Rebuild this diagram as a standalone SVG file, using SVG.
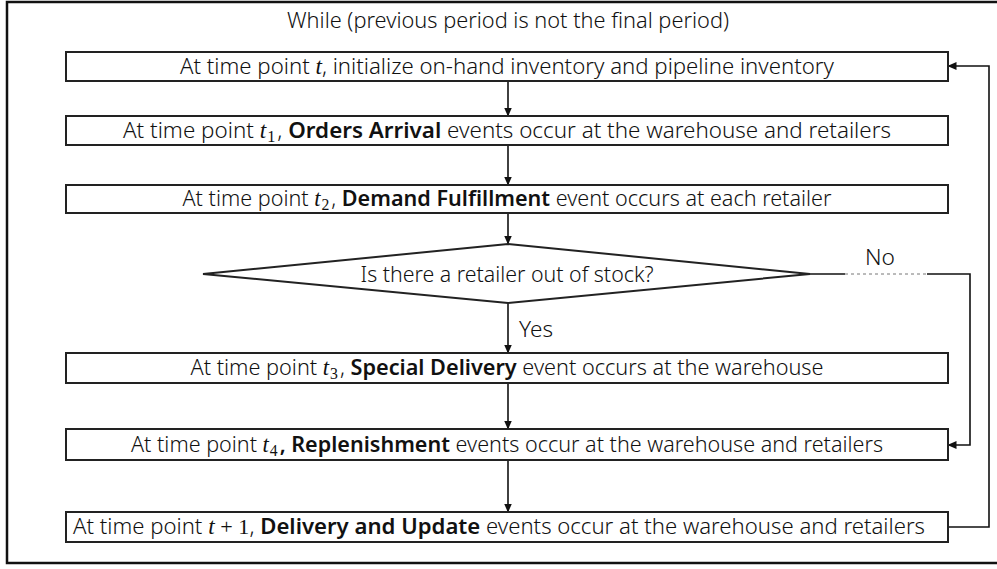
<svg xmlns="http://www.w3.org/2000/svg" width="997" height="569" viewBox="0 0 997 569">
<style>
.frame{fill:none;stroke:#111;stroke-width:2.5}
.box{fill:#fff;stroke:#222;stroke-width:2}
.t{font-family:"Noto Sans","Liberation Sans",sans-serif;font-size:22px;font-weight:300;fill:#111;text-anchor:middle}
.b{font-weight:600}
.m{font-family:"Liberation Serif","DejaVu Serif",serif;font-style:italic;font-size:23px}
.mr{font-family:"Liberation Serif","DejaVu Serif",serif;font-size:22px}
.sub{font-family:"Liberation Serif","DejaVu Serif",serif;font-size:16px}
.c{fill:none;stroke:#111;stroke-width:1.6}
</style>
<defs>
<marker id="ah" markerUnits="userSpaceOnUse" markerWidth="9" markerHeight="8" refX="8.5" refY="4" orient="auto">
<path d="M0,0 L9,4 L0,8 z" fill="#111"/>
</marker>
</defs>
<rect width="997" height="569" fill="#fff"/>
<rect class="frame" x="7" y="2" width="1000" height="561"/>
<text class="t" x="508" y="28" textLength="442" lengthAdjust="spacingAndGlyphs">While (previous period is not the final period)</text>

<g id="connectors">
<line class="c" x1="508" y1="81" x2="508" y2="116" marker-end="url(#ah)"/>
<line class="c" x1="508" y1="145" x2="508" y2="185" marker-end="url(#ah)"/>
<line class="c" x1="508" y1="213" x2="508" y2="244" marker-end="url(#ah)"/>
<line class="c" x1="508" y1="303" x2="508" y2="353" marker-end="url(#ah)"/>
<line class="c" x1="508" y1="383" x2="508" y2="429" marker-end="url(#ah)"/>
<line class="c" x1="508" y1="460" x2="508" y2="512" marker-end="url(#ah)"/>
<polyline class="c" points="948,527 989,527 989,66 948,66" marker-end="url(#ah)"/>
<line class="c" x1="810" y1="274" x2="845" y2="274"/>
<line x1="845" y1="274" x2="927" y2="274" stroke="#777" stroke-width="1" stroke-dasharray="3,3"/>
<polyline class="c" points="927,274 970,274 970,445 948,445" marker-end="url(#ah)"/>
<text class="t" x="536" y="337" textLength="34" lengthAdjust="spacingAndGlyphs">Yes</text>
<text class="t" x="880" y="265" textLength="30" lengthAdjust="spacingAndGlyphs">No</text>
</g>

<g id="n1">
<rect class="box" x="66" y="52" width="882" height="29"/>
<text class="t" x="507" y="74" textLength="654" lengthAdjust="spacingAndGlyphs">At time point <tspan class="m">t</tspan>, initialize on-hand inventory and pipeline inventory</text>
</g>
<g id="n2">
<rect class="box" x="66" y="116" width="882" height="29"/>
<text class="t" x="507" y="138" textLength="768" lengthAdjust="spacingAndGlyphs">At time point <tspan class="m">t</tspan><tspan class="sub" dx="1" dy="4">1</tspan><tspan dx="2" dy="-4">, </tspan><tspan class="b">Orders Arrival</tspan> events occur at the warehouse and retailers</text>
</g>
<g id="n3">
<rect class="box" x="66" y="185" width="882" height="28"/>
<text class="t" x="507" y="206" textLength="649" lengthAdjust="spacingAndGlyphs">At time point <tspan class="m">t</tspan><tspan class="sub" dx="1" dy="4">2</tspan><tspan dx="2" dy="-4">, </tspan><tspan class="b">Demand Fulfillment</tspan> event occurs at each retailer</text>
</g>
<g id="n4">
<polygon class="box" points="508,244 810,274 508,303 203,274"/>
<text class="t" x="507" y="282" textLength="293" lengthAdjust="spacingAndGlyphs">Is there a retailer out of stock?</text>
</g>
<g id="n5">
<rect class="box" x="66" y="353" width="882" height="30"/>
<text class="t" x="507" y="375" textLength="633" lengthAdjust="spacingAndGlyphs">At time point <tspan class="m">t</tspan><tspan class="sub" dx="1" dy="4">3</tspan><tspan dx="2" dy="-4">, </tspan><tspan class="b">Special Delivery</tspan> event occurs at the warehouse</text>
</g>
<g id="n6">
<rect class="box" x="66" y="429" width="882" height="31"/>
<text class="t" x="507" y="452" textLength="752" lengthAdjust="spacingAndGlyphs">At time point <tspan class="m">t</tspan><tspan class="sub" dx="1" dy="4">4</tspan><tspan class="b" dx="2" dy="-4">, Replenishment</tspan> events occur at the warehouse and retailers</text>
</g>
<g id="n7">
<rect class="box" x="66" y="512" width="882" height="30"/>
<text class="t" x="499" y="534" textLength="852" lengthAdjust="spacingAndGlyphs">At time point <tspan class="m">t</tspan> <tspan class="mr">+ 1</tspan>, <tspan class="b">Delivery and Update</tspan> events occur at the warehouse and retailers</text>
</g>
</svg>
